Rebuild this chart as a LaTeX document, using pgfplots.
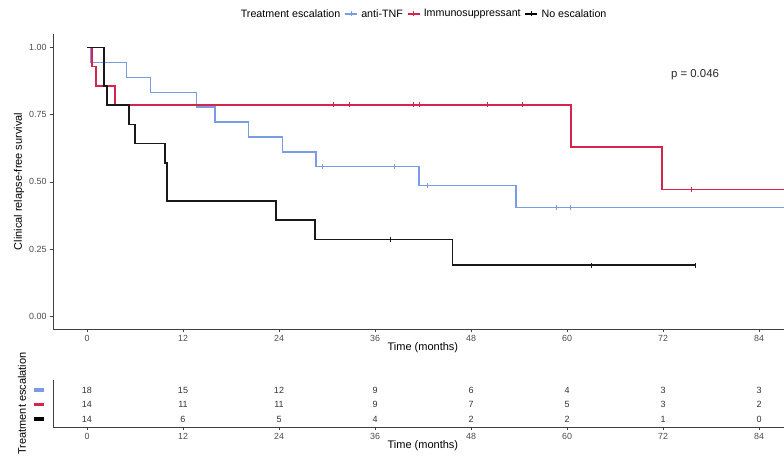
\documentclass[border=0pt]{standalone}
\usepackage{fontspec}
\setmainfont{Liberation Sans}
\usepackage{pgfplots}
\pgfplotsset{compat=1.18}
\definecolor{tnf}{RGB}{122,156,226}
\definecolor{imm}{RGB}{214,36,76}
\definecolor{axgray}{RGB}{77,77,77}

\pgfplotsset{
  km/.style={
    scale only axis, width=731pt,
    xmin=-4.25, xmax=87.125,
    axis lines*=left,
    axis line style={line width=0.6pt, black!75},
    tick align=outside, major tick length=3pt,
    tick style={line width=0.6pt, black!75},
    xtick={0,12,...,84},
    xticklabels={0,12,24,36,48,60,72,84},
    ticklabel style={font=\fontsize{8.9}{10}\selectfont, text=axgray},
    label style={font=\fontsize{11}{13}\selectfont},
    xlabel={Time (months)},
  },
}

\begin{document}
\begin{tikzpicture}
\path[use as bounding box] (0,0) rectangle (784pt,455pt);

% survival curves
\begin{axis}[km, height=295pt, at={(53pt,126pt)}, anchor=south west,
  ymin=-0.0475, ymax=1.05,
  ytick={0,0.25,0.5,0.75,1},
  yticklabels={0.00,0.25,0.50,0.75,1.00},
  ylabel={Clinical relapse-free survival},
  ylabel style={at={(axis description cs:-0.0465,0.5)}, anchor=center},
  xlabel style={at={(axis description cs:0.506,-0.0644)}, anchor=center},
  legend columns=-1,
  legend style={draw=none, fill=none, at={(axis description cs:0.506,1.068)},
    anchor=center, font=\fontsize{10.7}{12}\selectfont,
    /tikz/every odd column/.append style={column sep=1.5pt},
    /tikz/every even column/.append style={column sep=2pt}},
]
\addlegendimage{empty legend}\addlegendentry{Treatment escalation}
\addlegendimage{legend image code/.code={\draw[tnf,line width=1.4pt](0pt,0pt)--(12pt,0pt);\draw[tnf,line width=0.9pt](6pt,-2.5pt)--(6pt,2.5pt);}}
\addlegendentry{anti-TNF}
\addlegendimage{legend image code/.code={\draw[imm,line width=1.4pt](0pt,0pt)--(12pt,0pt);\draw[imm,line width=0.9pt](6pt,-2.5pt)--(6pt,2.5pt);}}
\addlegendentry{Immunosuppressant}
\addlegendimage{legend image code/.code={\draw[black,line width=1.4pt](0pt,0pt)--(12pt,0pt);\draw[black,line width=0.9pt](6pt,-2.5pt)--(6pt,2.5pt);}}
\addlegendentry{No escalation}

\addplot[tnf, line width=1.4pt, const plot, forget plot] coordinates {
  (0,1) (0.4,0.944) (4.9,0.889) (7.9,0.833) (13.7,0.778) (16,0.722)
  (20.2,0.667) (24.4,0.611) (28.6,0.556) (41.5,0.486) (53.6,0.405) (87.125,0.405)};
\addplot[tnf, only marks, mark=|, mark size=2.5pt, mark options={line width=0.9pt}, forget plot] coordinates {
  (29.4,0.556) (38.4,0.556) (42.6,0.486) (58.7,0.405) (60.4,0.405)};

\addplot[imm, line width=1.6pt, const plot, forget plot] coordinates {
  (0,1) (0.6,0.929) (1.1,0.857) (3.5,0.786) (60.5,0.629) (71.9,0.471) (87.125,0.471)};
\addplot[imm, only marks, mark=|, mark size=2.5pt, mark options={line width=0.9pt}, forget plot] coordinates {
  (30.8,0.786) (32.8,0.786) (40.8,0.786) (41.5,0.786) (50,0.786) (54.4,0.786) (75.6,0.471)};

\addplot[black!90, line width=1.6pt, const plot, forget plot] coordinates {
  (0,1) (2.1,0.857) (2.5,0.786) (5.25,0.714) (6,0.643) (9.75,0.571) (10,0.429)
  (23.6,0.357) (28.5,0.286) (45.7,0.190) (76,0.190)};
\addplot[black!90, only marks, mark=|, mark size=2.5pt, mark options={line width=0.9pt}, forget plot] coordinates {
  (37.9,0.286) (63.1,0.190) (76,0.190)};

\node[font=\fontsize{11.4}{13}\selectfont, text=black!85] at (axis cs:76,0.898) {p = 0.046};
\end{axis}

% numbers at risk
\begin{axis}[km, height=47pt, at={(53pt,28pt)}, anchor=south west,
  ymin=0.45, ymax=3.69,
  ytick={1,2,3},
  yticklabels={{\textcolor{black}{\rule{10pt}{3.5pt}}},{\textcolor{imm}{\rule{10pt}{3.5pt}}},{\textcolor{tnf}{\rule{10pt}{3.5pt}}}},
  ytick style={draw=none},
  yticklabel style={anchor=east, inner sep=0pt, xshift=-6pt},
  ylabel={Treatment escalation},
  ylabel style={at={(axis description cs:-0.0424,0.5)}, anchor=center},
  xlabel style={at={(axis description cs:0.506,-0.404)}, anchor=center},
]
\addplot[only marks, mark=none, nodes near coords, point meta=explicit symbolic,
  nodes near coords align=center,
  every node near coord/.append style={font=\fontsize{9}{10}\selectfont, text=black!80, anchor=center}]
  table[meta=n] {
x  y n
0  3 18
12 3 15
24 3 12
36 3 9
48 3 6
60 3 4
72 3 3
84 3 3
0  2 14
12 2 11
24 2 11
36 2 9
48 2 7
60 2 5
72 2 3
84 2 2
0  1 14
12 1 6
24 1 5
36 1 4
48 1 2
60 1 2
72 1 1
84 1 0
};
\end{axis}
\end{tikzpicture}
\end{document}
